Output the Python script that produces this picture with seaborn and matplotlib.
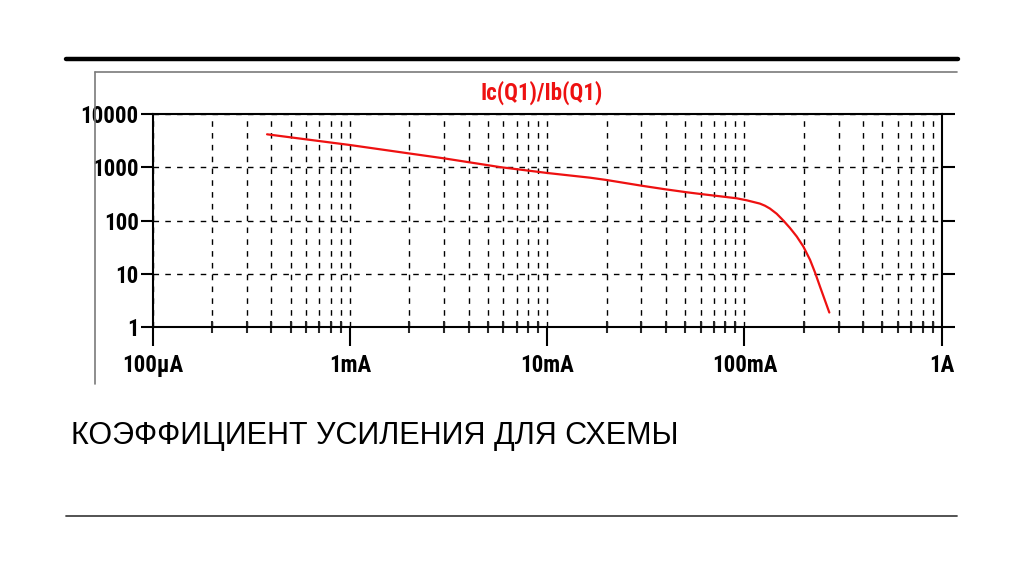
import numpy as np
import pandas as pd
import matplotlib
matplotlib.use("Agg")
import matplotlib.pyplot as plt
import matplotlib.font_manager as fm
import seaborn as sns
from matplotlib.lines import Line2D
from matplotlib.ticker import LogLocator, NullFormatter

# ---- data ----
current_a = [3.8e-4, 1e-3, 2e-3, 3e-3, 5.8e-3, 1e-2, 1.65e-2, 2.0e-2, 3.01e-2,
             3.88e-2, 5.1e-2, 6.19e-2, 7.81e-2, 9.13e-2, 0.1027, 0.1198,
             0.127, 0.1346, 0.1457, 0.1574, 0.1703, 0.1841, 0.1988, 0.2150,
             0.2279, 0.2415, 0.2693]
gain = [4200, 2640, 1830, 1480, 1010, 785, 640, 579, 452,
        392, 340, 311, 281, 262, 240, 208,
        190, 168, 134, 100, 72, 50, 32.4, 18.2,
        10.5, 5.7, 1.85]

x_ticks = [1e-4, 1e-3, 1e-2, 1e-1, 1.0]
x_labels = ["100µA", "1mA", "10mA", "100mA", "1A"]
y_ticks = [1, 10, 100, 1000, 10000]
y_labels = ["1", "10", "100", "1000", "10000"]

title = "Ic(Q1)/Ib(Q1)"
caption = "КОЭФФИЦИЕНТ УСИЛЕНИЯ ДЛЯ СХЕМЫ"

sns.set_theme(style="white")

installed = {f.name for f in fm.fontManager.ttflist}
narrow_name = None
for cand in ["Liberation Sans Narrow", "Arial Narrow", "Roboto Condensed",
             "Open Sans Condensed", "Noto Sans Condensed"]:
    if cand in installed:
        narrow_name = cand
        break
if narrow_name:
    label_family = [narrow_name, "Liberation Sans", "DejaVu Sans"]
    label_size = 16.5
else:
    label_family = ["Liberation Sans", "DejaVu Sans"]
    label_size = 14.5
plt.rcParams["font.family"] = label_family

W, H = 1024, 574
fig = plt.figure(figsize=(W / 100, H / 100), dpi=100)
fig.patch.set_facecolor("white")

ax = fig.add_axes([152.7 / W, (H - 326.7) / H, 789 / W, 212.4 / H])
ax.set_facecolor("white")

df = pd.DataFrame({"current": current_a, "gain": gain})
sns.lineplot(data=df, x="current", y="gain", ax=ax, color="#ee1111",
             linewidth=1.6, zorder=5)

ax.set_xscale("log")
ax.set_yscale("log")
ax.set_xlim(1e-4, 1)
ax.set_ylim(1, 1e4)
ax.set_xlabel("")
ax.set_ylabel("")

ax.set_xticks(x_ticks)
ax.set_xticklabels(x_labels)
ax.set_yticks(y_ticks)
ax.set_yticklabels(y_labels)
ax.xaxis.set_minor_locator(LogLocator(base=10, subs=np.arange(2, 10)))
ax.yaxis.set_minor_locator(LogLocator(base=10, subs=np.arange(2, 10)))
ax.xaxis.set_minor_formatter(NullFormatter())
ax.yaxis.set_minor_formatter(NullFormatter())

dash = (0, (4, 4.5))
ax.grid(True, which="both", axis="x", color="black", linestyle=dash, linewidth=1.0)
ax.grid(True, which="major", axis="y", color="black", linestyle=dash, linewidth=1.0)

for s in ax.spines.values():
    s.set_visible(True)
    s.set_color("black")
    s.set_linewidth(1.5)

ax.tick_params(axis="x", which="major", direction="out", length=14, width=1.5,
               labelsize=label_size, pad=6, bottom=True, top=False, colors="black")
ax.tick_params(axis="x", which="minor", direction="inout", length=9, width=1.5,
               bottom=True, top=False)
ax.tick_params(axis="y", which="major", direction="out", length=9, width=1.5,
               labelsize=label_size, pad=1, left=True, right=True, colors="black")
ax.tick_params(axis="y", which="minor", direction="out", length=5, width=2,
               left=True, right=False)
for lbl in ax.get_xticklabels() + ax.get_yticklabels():
    lbl.set_fontweight("bold")

# title of the simulator plot
fig.text(542 / W, 1 - 93 / H, title, color="#ee1111", fontsize=label_size,
         fontweight="bold", ha="center", va="center", family=label_family)

# slide decorations
fig.add_artist(Line2D([66 / W, 958 / W], [1 - 59 / H, 1 - 59 / H],
                      color="black", linewidth=3.2, transform=fig.transFigure))
fig.add_artist(Line2D([95 / W, 957 / W], [1 - 72 / H, 1 - 72 / H],
                      color="#7a7a7a", linewidth=1.2, transform=fig.transFigure))
fig.add_artist(Line2D([95 / W, 95 / W], [1 - 72 / H, 1 - 384 / H],
                      color="#7a7a7a", linewidth=1.2, transform=fig.transFigure))
fig.add_artist(Line2D([66 / W, 957 / W], [1 - 516 / H, 1 - 516 / H],
                      color="#444444", linewidth=1.3, transform=fig.transFigure))

fig.text(71 / W, 1 - 436 / H, caption, color="black", fontsize=22,
         ha="left", va="center", family=["Liberation Sans", "DejaVu Sans"])

fig.savefig("out.png", dpi=100, facecolor="white")
